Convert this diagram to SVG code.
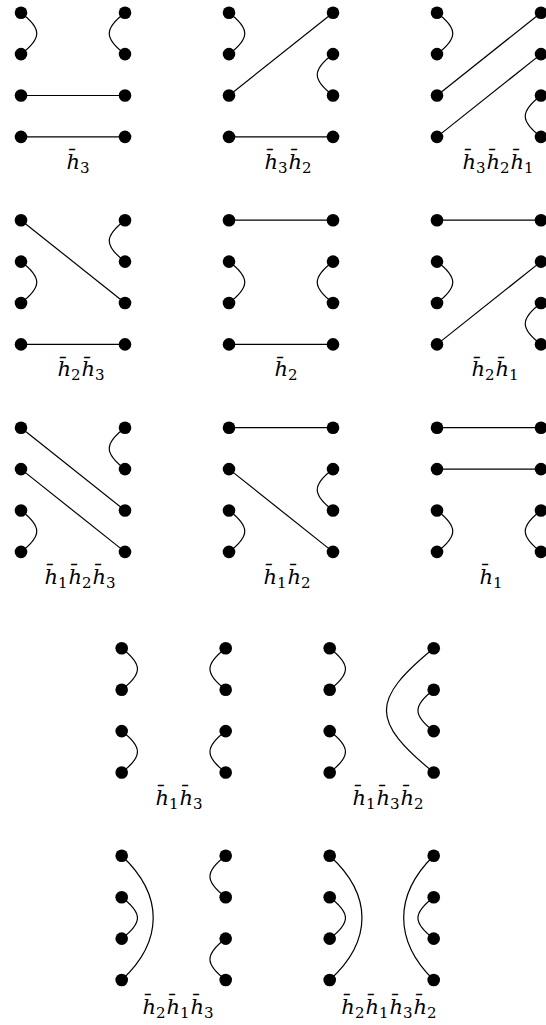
<svg xmlns="http://www.w3.org/2000/svg" width="546" height="1025" viewBox="0 0 546 1025">
<style>
.c{fill:none;stroke:#000;stroke-width:1.2}
.d{fill:#000}
.lbl{font-family:"DejaVu Serif","Liberation Serif",serif;font-style:italic;font-size:21px;text-anchor:middle;fill:#000}
.s{font-style:normal;font-size:15px}
</style>
<defs>
<g id="col"><circle cx="0" cy="0" r="6.3"/><circle cx="0" cy="41.4" r="6.3"/><circle cx="0" cy="82.8" r="6.3"/><circle cx="0" cy="124.2" r="6.3"/></g>
</defs>
<rect width="546" height="1025" fill="#fff"/>
<g id="connectors" class="c">
<path d="M21,12.7 C42,28.7 42,38.1 21,54.1"/>
<path d="M125,12.7 C104,28.7 104,38.1 125,54.1"/>
<path d="M21,95.5 H125"/>
<path d="M21,136.9 H125"/>
<path d="M229,12.7 C250,28.7 250,38.1 229,54.1"/>
<path d="M229,95.5 L333,12.7"/>
<path d="M333,54.1 C312,70.1 312,79.5 333,95.5"/>
<path d="M229,136.9 H333"/>
<path d="M437,12.7 C458,28.7 458,38.1 437,54.1"/>
<path d="M437,95.5 L541,12.7"/>
<path d="M437,136.9 L541,54.1"/>
<path d="M541,95.5 C520,111.5 520,120.9 541,136.9"/>
<path d="M21,220.2 L125,303"/>
<path d="M125,220.2 C104,236.2 104,245.6 125,261.6"/>
<path d="M21,261.6 C42,277.6 42,287 21,303"/>
<path d="M21,344.4 H125"/>
<path d="M229,220.2 H333"/>
<path d="M229,261.6 C250,277.6 250,287 229,303"/>
<path d="M333,261.6 C312,277.6 312,287 333,303"/>
<path d="M229,344.4 H333"/>
<path d="M437,220.2 H541"/>
<path d="M437,261.6 C458,277.6 458,287 437,303"/>
<path d="M437,344.4 L541,261.6"/>
<path d="M541,303 C520,319 520,328.4 541,344.4"/>
<path d="M21,427.7 L125,510.5"/>
<path d="M21,469.1 L125,551.9"/>
<path d="M125,427.7 C104,443.7 104,453.1 125,469.1"/>
<path d="M21,510.5 C42,526.5 42,535.9 21,551.9"/>
<path d="M229,427.7 H333"/>
<path d="M229,469.1 L333,551.9"/>
<path d="M333,469.1 C312,485.1 312,494.5 333,510.5"/>
<path d="M229,510.5 C250,526.5 250,535.9 229,551.9"/>
<path d="M437,427.7 H541"/>
<path d="M437,469.1 H541"/>
<path d="M437,510.5 C458,526.5 458,535.9 437,551.9"/>
<path d="M541,510.5 C520,526.5 520,535.9 541,551.9"/>
<path d="M121.7,648.3 C142.7,664.3 142.7,673.7 121.7,689.7"/>
<path d="M121.7,731.1 C142.7,747.1 142.7,756.5 121.7,772.5"/>
<path d="M225.7,648.3 C204.7,664.3 204.7,673.7 225.7,689.7"/>
<path d="M225.7,731.1 C204.7,747.1 204.7,756.5 225.7,772.5"/>
<path d="M329.7,648.3 C350.7,664.3 350.7,673.7 329.7,689.7"/>
<path d="M329.7,731.1 C350.7,747.1 350.7,756.5 329.7,772.5"/>
<path d="M433.7,648.3 C370.7,700 370.7,720.8 433.7,772.5"/>
<path d="M433.7,689.7 C412.7,705.7 412.7,715.1 433.7,731.1"/>
<path d="M121.7,855.8 C163.7,895 163.7,940.8 121.7,980"/>
<path d="M121.7,897.2 C142.7,913.2 142.7,922.6 121.7,938.6"/>
<path d="M225.7,855.8 C204.7,871.8 204.7,881.2 225.7,897.2"/>
<path d="M225.7,938.6 C204.7,954.6 204.7,964 225.7,980"/>
<path d="M329.7,855.8 C372.7,895 372.7,940.8 329.7,980"/>
<path d="M329.7,897.2 C350.7,913.2 350.7,922.6 329.7,938.6"/>
<path d="M433.7,855.8 C393.7,895 393.7,940.8 433.7,980"/>
<path d="M433.7,897.2 C412.7,913.2 412.7,922.6 433.7,938.6"/>
</g>
<g id="p1" class="d"><use href="#col" x="21" y="12.7"/><use href="#col" x="125" y="12.7"/><text class="lbl" x="78" y="169">h&#x304;<tspan class="s" dy="4">3</tspan></text></g>
<g id="p2" class="d"><use href="#col" x="229" y="12.7"/><use href="#col" x="333" y="12.7"/><text class="lbl" x="288" y="169">h&#x304;<tspan class="s" dy="4">3</tspan><tspan dx="1" dy="-4">h&#x304;</tspan><tspan class="s" dy="4">2</tspan></text></g>
<g id="p3" class="d"><use href="#col" x="437" y="12.7"/><use href="#col" x="541" y="12.7"/><text class="lbl" x="498" y="169">h&#x304;<tspan class="s" dy="4">3</tspan><tspan dx="1" dy="-4">h&#x304;</tspan><tspan class="s" dy="4">2</tspan><tspan dx="1" dy="-4">h&#x304;</tspan><tspan class="s" dy="4">1</tspan></text></g>
<g id="p4" class="d"><use href="#col" x="21" y="220.2"/><use href="#col" x="125" y="220.2"/><text class="lbl" x="81" y="376.4">h&#x304;<tspan class="s" dy="4">2</tspan><tspan dx="1" dy="-4">h&#x304;</tspan><tspan class="s" dy="4">3</tspan></text></g>
<g id="p5" class="d"><use href="#col" x="229" y="220.2"/><use href="#col" x="333" y="220.2"/><text class="lbl" x="286" y="376.4">h&#x304;<tspan class="s" dy="4">2</tspan></text></g>
<g id="p6" class="d"><use href="#col" x="437" y="220.2"/><use href="#col" x="541" y="220.2"/><text class="lbl" x="495" y="376.4">h&#x304;<tspan class="s" dy="4">2</tspan><tspan dx="1" dy="-4">h&#x304;</tspan><tspan class="s" dy="4">1</tspan></text></g>
<g id="p7" class="d"><use href="#col" x="21" y="427.7"/><use href="#col" x="125" y="427.7"/><text class="lbl" x="80" y="584">h&#x304;<tspan class="s" dy="4">1</tspan><tspan dx="1" dy="-4">h&#x304;</tspan><tspan class="s" dy="4">2</tspan><tspan dx="1" dy="-4">h&#x304;</tspan><tspan class="s" dy="4">3</tspan></text></g>
<g id="p8" class="d"><use href="#col" x="229" y="427.7"/><use href="#col" x="333" y="427.7"/><text class="lbl" x="287" y="584">h&#x304;<tspan class="s" dy="4">1</tspan><tspan dx="1" dy="-4">h&#x304;</tspan><tspan class="s" dy="4">2</tspan></text></g>
<g id="p9" class="d"><use href="#col" x="437" y="427.7"/><use href="#col" x="541" y="427.7"/><text class="lbl" x="491" y="584">h&#x304;<tspan class="s" dy="4">1</tspan></text></g>
<g id="p10" class="d"><use href="#col" x="121.7" y="648.3"/><use href="#col" x="225.7" y="648.3"/><text class="lbl" x="179" y="805">h&#x304;<tspan class="s" dy="4">1</tspan><tspan dx="1" dy="-4">h&#x304;</tspan><tspan class="s" dy="4">3</tspan></text></g>
<g id="p11" class="d"><use href="#col" x="329.7" y="648.3"/><use href="#col" x="433.7" y="648.3"/><text class="lbl" x="388" y="805">h&#x304;<tspan class="s" dy="4">1</tspan><tspan dx="1" dy="-4">h&#x304;</tspan><tspan class="s" dy="4">3</tspan><tspan dx="1" dy="-4">h&#x304;</tspan><tspan class="s" dy="4">2</tspan></text></g>
<g id="p12" class="d"><use href="#col" x="121.7" y="855.8"/><use href="#col" x="225.7" y="855.8"/><text class="lbl" x="178" y="1014">h&#x304;<tspan class="s" dy="4">2</tspan><tspan dx="1" dy="-4">h&#x304;</tspan><tspan class="s" dy="4">1</tspan><tspan dx="1" dy="-4">h&#x304;</tspan><tspan class="s" dy="4">3</tspan></text></g>
<g id="p13" class="d"><use href="#col" x="329.7" y="855.8"/><use href="#col" x="433.7" y="855.8"/><text class="lbl" x="389" y="1014">h&#x304;<tspan class="s" dy="4">2</tspan><tspan dx="1" dy="-4">h&#x304;</tspan><tspan class="s" dy="4">1</tspan><tspan dx="1" dy="-4">h&#x304;</tspan><tspan class="s" dy="4">3</tspan><tspan dx="1" dy="-4">h&#x304;</tspan><tspan class="s" dy="4">2</tspan></text></g>
</svg>
